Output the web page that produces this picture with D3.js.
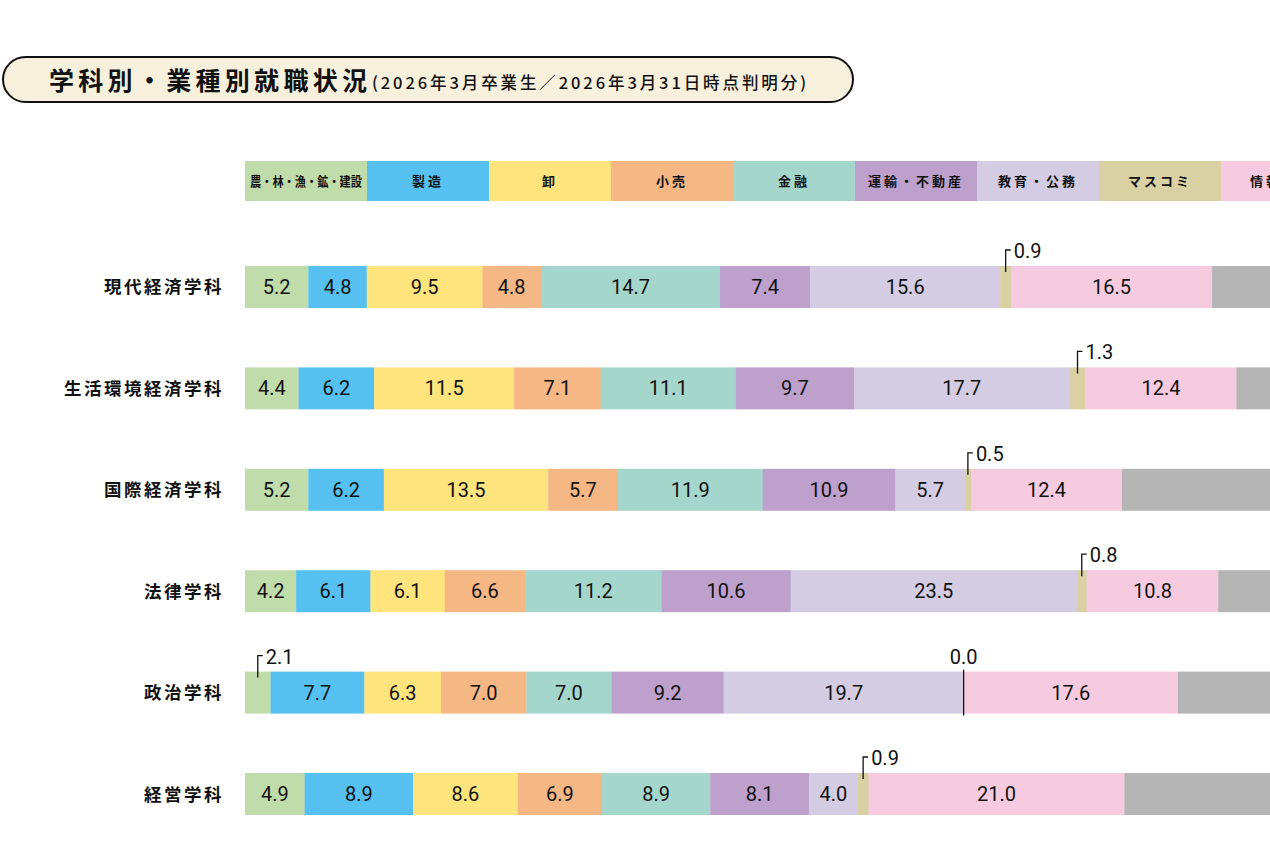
<!DOCTYPE html>
<html lang="ja">
<head>
<meta charset="utf-8">
<script src="https://cdn.jsdelivr.net/npm/d3@7"></script>
<style>
  body { margin: 0; background: #fff; }
  svg text { font-family: "Noto Sans CJK JP", "Noto Sans", sans-serif; fill: #111; }
  .num { font-family: Roboto, "Noto Sans", sans-serif; }
</style>
</head>
<body>
<div id="grafico"></div>
<script>
// 業種カテゴリ
const categorias = ["農・林・漁・鉱・建設", "製造", "卸", "小売", "金融", "運輸・不動産", "教育・公務", "マスコミ", "情報通信", "その他"];
const colores = ["#c1dcab", "#56c1f0", "#fde47d", "#f5b784", "#a4d6cc", "#bda0cb", "#d3cce3", "#d9d0a4", "#f7cbdf", "#b4b5b4"];

// 学科
const departamentos = ["現代経済学科", "生活環境経済学科", "国際経済学科", "法律学科", "政治学科", "経営学科"];

// 各学科の割合 (%)
const agricultura = [5.2, 4.4, 5.2, 4.2, 2.1, 4.9];
const manufactura = [4.8, 6.2, 6.2, 6.1, 7.7, 8.9];
const mayorista   = [9.5, 11.5, 13.5, 6.1, 6.3, 8.6];
const minorista   = [4.8, 7.1, 5.7, 6.6, 7.0, 6.9];
const finanzas    = [14.7, 11.1, 11.9, 11.2, 7.0, 8.9];
const transporte  = [7.4, 9.7, 10.9, 10.6, 9.2, 8.1];
const educacion   = [15.6, 17.7, 5.7, 23.5, 19.7, 4.0];
const medios      = [0.9, 1.3, 0.5, 0.8, 0.0, 0.9];
const informacion = [16.5, 12.4, 12.4, 10.8, 17.6, 21.0];
const otros       = [20.6, 18.6, 28.0, 20.1, 23.4, 27.8];

const series = [agricultura, manufactura, mayorista, minorista, finanzas, transporte, educacion, medios, informacion, otros];

const svg = d3.select("#grafico").append("svg")
    .attr("width", 1270)
    .attr("height", 863);

// タイトル
svg.append("rect")
    .attr("x", 3).attr("y", 57)
    .attr("width", 850).attr("height", 45)
    .attr("rx", 22.5).attr("ry", 22.5)
    .attr("fill", "#f6f0dc")
    .attr("stroke", "#111")
    .attr("stroke-width", 2);

svg.append("text")
    .attr("x", 49).attr("y", 90)
    .attr("font-size", "25px")
    .attr("font-weight", 700)
    .attr("textLength", 318)
    .attr("lengthAdjust", "spacing")
    .text("学科別・業種別就職状況");

svg.append("text")
    .attr("x", 372).attr("y", 89)
    .attr("font-size", "16.5px")
    .attr("font-weight", 500)
    .attr("textLength", 434)
    .attr("lengthAdjust", "spacing")
    .text("(2026年3月卒業生／2026年3月31日時点判明分)");

// スケール
const x = d3.scaleLinear().domain([0, 100]).range([245, 245 + 1218]);

const y = d3.scaleBand()
    .domain(departamentos)
    .range([266, 815])
    .paddingInner(0.586)
    .paddingOuter(0);

const xLeyenda = d3.scaleBand()
    .domain(categorias)
    .range([245, 245 + 1220]);

const color = d3.scaleOrdinal().domain(categorias).range(colores);

// 凡例
const leyenda = svg.append("g");
leyenda.selectAll("rect")
    .data(categorias)
    .enter()
    .append("rect")
    .attr("x", d => xLeyenda(d))
    .attr("y", 161)
    .attr("width", xLeyenda.bandwidth() + 0.5)
    .attr("height", 40)
    .attr("fill", d => color(d));

leyenda.selectAll("text")
    .data(categorias)
    .enter()
    .append("text")
    .attr("x", d => xLeyenda(d) + xLeyenda.bandwidth() / 2)
    .attr("y", 186)
    .attr("text-anchor", "middle")
    .attr("font-size", "13px")
    .attr("font-weight", 700)
    .attr("letter-spacing", (d, i) => i === 0 ? null : "3px")
    .attr("textLength", (d, i) => i === 0 ? 112 : null)
    .attr("lengthAdjust", (d, i) => i === 0 ? "spacingAndGlyphs" : null)
    .text(d => d);

// 積み上げデータ
const filas = departamentos.map((dep, r) => {
    let acc = 0;
    return categorias.map((cat, c) => {
        const v = series[c][r];
        const seg = { dep, cat, v, x0: acc, x1: acc + v };
        acc += v;
        return seg;
    });
});
const segmentos = filas.flat();

// 学科ラベル
svg.append("g")
    .selectAll("text")
    .data(departamentos)
    .enter()
    .append("text")
    .attr("x", 224)
    .attr("y", d => y(d) + y.bandwidth() / 2 + 6.5)
    .attr("text-anchor", "end")
    .attr("font-size", "17.5px")
    .attr("font-weight", 700)
    .attr("letter-spacing", "2.5px")
    .text(d => d);

// 棒
svg.append("g")
    .selectAll("rect")
    .data(segmentos.filter(d => d.v > 0))
    .enter()
    .append("rect")
    .attr("x", d => x(d.x0))
    .attr("y", d => y(d.dep))
    .attr("width", d => x(d.x1) - x(d.x0) + 0.3)
    .attr("height", y.bandwidth())
    .attr("fill", d => color(d.cat));

// 数値ラベル（棒の中）
svg.append("g")
    .selectAll("text")
    .data(segmentos.filter(d => d.v >= 3))
    .enter()
    .append("text")
    .attr("class", "num")
    .attr("x", d => (x(d.x0) + x(d.x1)) / 2)
    .attr("y", d => y(d.dep) + y.bandwidth() / 2 + 7)
    .attr("text-anchor", "middle")
    .attr("font-size", "20px")
    .text(d => d.v.toFixed(1));

// 小さい値は引き出し線
const pequenos = segmentos.filter(d => d.v > 0 && d.v < 3);
const guia = svg.append("g");
guia.selectAll("path")
    .data(pequenos)
    .enter()
    .append("path")
    .attr("d", d => {
        const cx = (x(d.x0) + x(d.x1)) / 2;
        const top = y(d.dep);
        return `M${cx},${top + 6}V${top - 16}H${cx + 5}`;
    })
    .attr("fill", "none")
    .attr("stroke", "#111")
    .attr("stroke-width", 1.3);

guia.selectAll("text")
    .data(pequenos)
    .enter()
    .append("text")
    .attr("class", "num")
    .attr("x", d => (x(d.x0) + x(d.x1)) / 2 + 8)
    .attr("y", d => y(d.dep) - 8)
    .attr("font-size", "20px")
    .text(d => d.v.toFixed(1));

// 0.0 の場合
const ceros = segmentos.filter(d => d.v === 0);
guia.selectAll("line")
    .data(ceros)
    .enter()
    .append("line")
    .attr("x1", d => x(d.x0))
    .attr("x2", d => x(d.x0))
    .attr("y1", d => y(d.dep) - 2)
    .attr("y2", d => y(d.dep) + y.bandwidth() + 2)
    .attr("stroke", "#111")
    .attr("stroke-width", 1.3);

guia.selectAll("text.cero")
    .data(ceros)
    .enter()
    .append("text")
    .attr("class", "num cero")
    .attr("x", d => x(d.x0))
    .attr("y", d => y(d.dep) - 8)
    .attr("text-anchor", "middle")
    .attr("font-size", "20px")
    .text(d => d.v.toFixed(1));
</script>
</body>
</html>
